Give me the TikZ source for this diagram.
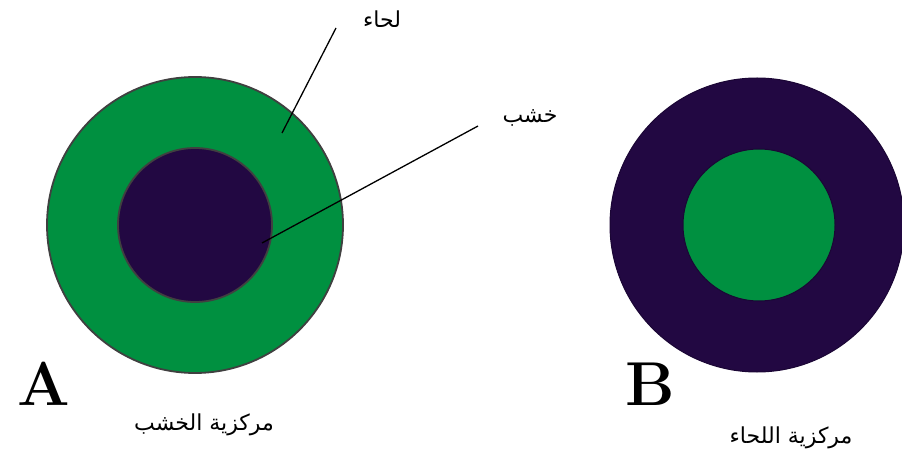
\documentclass[tikz,border=0pt]{standalone}
\usepackage{fontspec}
\TeXXeTstate=1
\newfontfamily\arabicfont[Script=Arabic]{DejaVu Sans}
\definecolor{xgreen}{RGB}{0,144,64}
\definecolor{xpurple}{RGB}{34,8,66}
\begin{document}
\begin{tikzpicture}[x=1pt,y=-1pt,
  ring/.style={draw=black!75, line width=1.8pt},
  lbl/.style={font=\arabicfont\fontsize{22}{26}\selectfont, inner sep=0pt},
  big/.style={font=\bfseries\fontsize{62}{68}\selectfont, inner sep=0pt},
  leader/.style={draw=black, line width=1.3pt}]
\useasboundingbox (0,0) rectangle (902,454);
% A
\fill[xgreen, ring] (195,225) circle (148);
\fill[xpurple, ring] (195,225) circle (77);
% B
\fill[xpurple, draw=xpurple!80!black, line width=1pt] (757,225) circle (147);
\fill[xgreen, draw=xpurple!80!black, line width=1pt] (759,225) circle (76);
% labels
\node[lbl] (phloem) at (382,19) {\beginR لحاء\endR};
\node[lbl] (xylem) at (530,118) {\beginR خشب\endR};
\coordinate (p1) at (336,28);
\coordinate (p2) at (282,133);
\coordinate (x1) at (478,126);
\coordinate (x2) at (262,243);
\draw[leader] (p1) -- (p2);
\draw[leader] (x1) -- (x2);
\node[big] (A) at (44,384) {A};
\node[big] (B) at (650,384) {B};
\node[lbl] (capA) at (204,425) {\beginR مركزية الخشب\endR};
\node[lbl] (capB) at (791,438) {\beginR مركزية  اللحاء\endR};
\end{tikzpicture}
\end{document}
